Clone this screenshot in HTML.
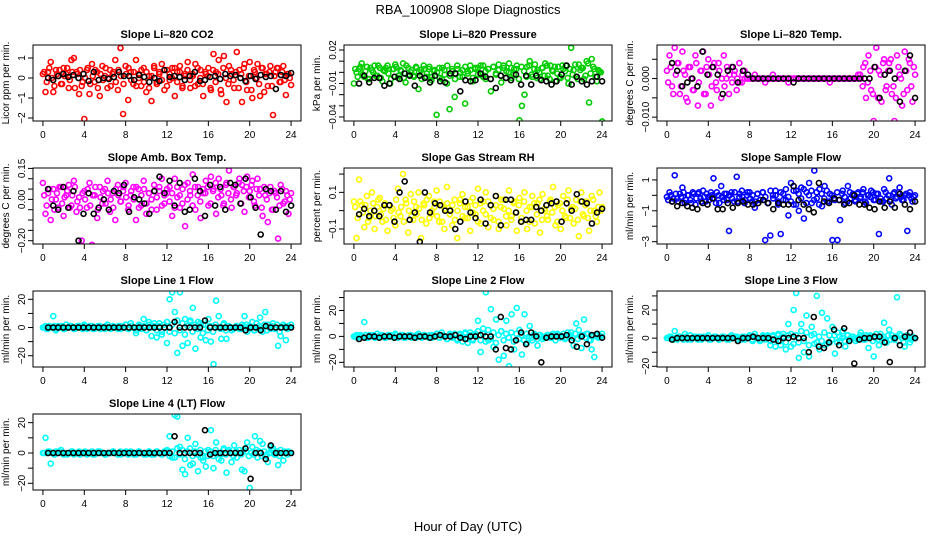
<!DOCTYPE html>
<html><head><meta charset="utf-8"><style>
body{margin:0;background:#fff}
svg{display:block;font-family:"Liberation Sans",sans-serif}
</style></head><body>
<svg id="chart" width="936" height="540" viewBox="0 0 936 540" xmlns="http://www.w3.org/2000/svg">
<rect width="936" height="540" fill="#fff"/>
<text x="468" y="14" font-size="13" text-anchor="middle">RBA_100908  Slope Diagnostics</text>
<text x="468" y="531" font-size="13" text-anchor="middle">Hour of Day (UTC)</text>
</svg>
<script>
const xTicks = [0,4,8,12,16,20,24];
const co2Color = [0.2,-0.7,0.3,0.8,-0.7,0.4,0.1,-0.3,0.5,0.2,-0.5,0.9,1.0,0.3,-0.8,-0.4,-2.05,0.4,-0.8,0.7,-0.2,0.3,-0.9,0.6,0.1,-0.5,0.4,0.2,0.9,-0.6,1.5,-1.8,0.6,-1.1,0.3,-0.3,0.9,0.2,-0.4,0.5,-0.7,0.1,-1.15,0.6,-0.2,0.3,0.7,-0.6,0.4,-0.1,0.5,-0.9,0.3,0.6,-0.4,0.2,0.8,-0.5,0.1,0.7,-0.3,0.4,-0.9,0.2,0.5,-0.6,1.2,0.3,0.9,-0.8,1.1,-1.2,0.6,0.2,-0.5,1.3,0.4,-1.2,0.7,-0.6,0.8,-1.0,0.3,0.7,-0.9,0.5,0.2,-0.4,0.6,-1.85,0.3,0.5,-0.2,0.6,-0.85,0.2,-0.35];
const co2Core = [0.3,-0.2,0.5,0.0,-0.4,0.2,0.4,-0.3,0.1,0.5,-0.1,0.3,-0.5,0.2,0.4,-0.2,0.0,0.5,-0.3,0.1,0.4,-0.5,0.2,-0.1,0.5,0.0,-0.4,0.3,-0.2,0.4,0.1,-0.3,0.2,0.5,-0.1,0.3,-0.4,0.0,0.4,-0.2,0.3,-0.5,0.1,0.5,-0.3,0.2,-0.1,0.4,-0.4,0.2,0.0,0.5,-0.2,0.3,-0.5,0.1,0.4,-0.1,0.2,-0.4,0.5,0.0,-0.3,0.3,0.1,-0.5,0.4,-0.2,0.2,-0.6,0.5,0.0,-0.3,0.4,-0.1,0.3,-0.5,0.2,0.5,-0.2,0.1,-0.6,0.4,0.0,-0.3,0.5,-0.7,0.2,0.3,-0.4,0.1,0.5,-0.2,0.3,-0.1,0.2,0.0];
const co2Black = [0,-0.1,0.1,0.2,0.05,0.15,0.0,0.2,-0.15,0.3,-0.1,0.0,-0.05,0.05,0.3,0.1,0.1,-0.1,0.15,0.05,-0.2,0.0,-0.15,0.4,0.05,0.1,0.05,-0.1,0.1,0.3,-0.15,-0.1,0.05,0.1,-0.05,0.2,0.1,0.15,0.0,-0.15,0.1,-0.05,0.15,0.05,0.1,-0.55,0.15,0.1,0.25];
const presColor = [-0.01,0.0,0.003,0.008,-0.004,0.005,-0.006,0.002,0.006,-0.003,0.004,-0.008,0.001,0.006,-0.01,0.003,0.007,-0.005,0.002,0.008,-0.009,0.004,0.0,-0.003,0.005,-0.015,0.002,0.006,-0.004,0.003,-0.007,0.001,-0.038,0.004,-0.006,0.002,-0.01,-0.033,0.003,-0.022,0.006,-0.004,0.002,-0.028,0.001,0.006,-0.008,0.003,0.004,-0.002,0.006,-0.006,0.003,-0.017,0.005,-0.002,0.007,-0.009,0.004,0.001,0.008,-0.005,0.003,0.006,-0.043,-0.03,-0.02,0.005,0.01,-0.004,0.007,0.002,-0.006,0.004,0.008,-0.003,0.006,0.001,-0.008,0.005,-0.005,0.003,0.006,-0.01,0.022,0.002,-0.004,0.007,0.004,-0.006,0.01,-0.027,0.012,0.003,-0.008,0.001,-0.044];
const presCore = [0.003,-0.004,0.005,-0.002,0.001,-0.006,0.004,0.0,-0.003,0.006,-0.005,0.002,0.004,-0.001,-0.006,0.003,0.005,-0.003,0.001,-0.005,0.006,-0.002,0.002,-0.004,0.004,0.0,-0.006,0.003,-0.001,0.005,-0.004,0.002,0.0,-0.005,0.004,-0.002,0.006,-0.003,0.001,-0.006,0.003,0.0,-0.004,0.005,-0.001,0.002,-0.005,0.004,-0.002,0.006,-0.004,0.001,0.003,-0.006,0.005,-0.001,0.002,-0.003,0.006,-0.005,0.0,0.004,-0.002,0.003,-0.006,0.005,0.001,-0.004,0.006,-0.002,0.003,-0.005,0.0,0.004,-0.003,0.006,-0.006,0.002,0.005,-0.001,-0.004,0.006,0.001,-0.005,0.003,-0.002,0.007,-0.006,0.002,0.004,-0.003,0.008,-0.001,0.005,-0.004,0.002,0.0];
const presBlack = [-0.01,-0.003,-0.009,-0.005,-0.005,-0.012,-0.01,-0.004,-0.006,-0.001,-0.003,-0.012,-0.003,-0.005,-0.009,-0.003,-0.008,-0.009,-0.001,-0.001,-0.017,-0.007,-0.008,-0.007,-0.001,-0.004,-0.006,-0.014,-0.003,-0.005,-0.007,-0.002,-0.011,-0.003,-0.011,-0.003,-0.007,-0.008,-0.011,-0.008,-0.002,0.006,-0.011,-0.004,-0.008,-0.011,-0.008,-0.004,-0.008];
const tempColor = [0.002,0.006,-0.002,0.008,0.004,-0.004,0.007,0.001,-0.006,0.003,-0.003,0.006,-0.007,0.002,0.007,-0.004,0.005,-0.007,0.003,-0.001,0.004,-0.005,0.006,0.0,-0.004,0.003,0.001,-0.003,0.004,-0.001,0.002,0.0,0.0,0.0,0.001,0.0,0.0,0.0,-0.001,0.0,0.0,0.001,0.0,0.0,0.0,0.0,0.0,-0.001,0.0,0.0,0.0,0.0,0.0,0.0,0.0,0.0,0.0,0.0,0.0,0.0,0.0,0.0,0.0,-0.001,0.0,0.0,0.0,0.0,0.0,0.0,0.0,0.0,0.0,0.0,0.001,0.0,0.003,-0.005,0.006,-0.003,-0.011,0.008,0.002,-0.006,0.005,-0.002,0.004,-0.004,-0.011,0.006,0.001,-0.007,0.007,-0.003,0.004,-0.006,0.001];
const tempCore = [-0.001,0.003,-0.004,0.001,0.004,-0.002,0.002,-0.005,0.003,0.0,-0.003,0.004,-0.001,0.002,-0.004,0.003,0.001,-0.002,0.004,-0.003,0.002,0.0,-0.002,0.003,0.001,-0.001,0.002,0.0,-0.001,0.001,0.0,0.0,0.0,0.0,0.0,0.0,0.0,0.0,0.0,0.0,0.0,0.0,0.0,0.0,0.0,0.0,0.0,0.0,0.0,0.0,0.0,0.0,0.0,0.0,0.0,0.0,0.0,0.0,0.0,0.0,0.0,0.0,0.0,0.0,0.0,0.0,0.0,0.0,0.0,0.0,0.0,0.0,0.0,0.0,0.0,0.001,-0.002,0.004,-0.001,0.002,-0.004,0.003,-0.005,0.001,0.004,-0.003,0.002,0.005,-0.002,-0.005,0.003,0.0,-0.004,0.002,0.005,-0.002,0.003];
const tempBlack = [0.004,0.002,-0.002,-0.001,0.0,-0.002,0.007,0.001,0.003,0.001,-0.004,0.002,0.003,-0.001,0.002,0.001,0.0,0.0,0.0,0.0,0.0,0.0,0.0,0.0,-0.001,0.0,0.0,0.0,0.0,0.0,0.0,0.0,0.0,0.0,0.0,0.0,0.0,0.0,0.0,0.0,0.003,-0.005,0.001,0.002,0.0,-0.006,0.002,0.006,-0.005];
const ambColor = [0.08,-0.07,0.03,-0.1,0.05,0.0,-0.04,0.06,-0.08,0.02,0.07,-0.03,0.09,-0.06,0.01,-0.2,0.04,-0.04,0.08,-0.22,0.02,-0.09,0.06,-0.02,0.05,0.09,-0.06,0.03,-0.1,0.07,-0.01,0.04,0.08,-0.05,0.02,0.06,-0.1,0.05,-0.03,0.09,-0.07,0.03,0.0,0.07,-0.05,0.04,0.1,-0.02,0.03,0.06,-0.08,0.1,0.01,-0.04,0.05,-0.13,0.08,0.02,0.12,-0.05,0.06,-0.09,0.03,0.09,-0.03,0.11,0.05,-0.07,0.1,0.02,-0.02,0.08,0.14,-0.04,0.06,0.03,0.1,0.07,-0.06,0.11,0.04,0.09,-0.03,0.1,0.05,-0.08,0.02,-0.11,0.06,-0.05,0.03,-0.19,0.07,-0.02,0.04,-0.07,0.03];
const ambCore = [0.02,-0.03,0.05,0.0,-0.05,0.03,0.06,-0.02,0.01,0.04,-0.04,0.02,0.06,-0.01,-0.04,0.03,0.0,0.05,-0.03,0.02,0.06,-0.05,0.01,0.04,-0.02,0.03,0.0,-0.04,0.05,0.02,-0.01,0.06,0.01,-0.03,0.04,0.0,0.06,-0.04,0.02,0.05,-0.02,0.03,-0.05,0.04,0.01,0.06,-0.03,0.02,0.05,-0.01,0.03,-0.04,0.06,0.02,-0.02,0.07,0.0,0.04,-0.03,0.06,0.02,-0.01,0.05,0.03,0.06,-0.02,0.04,0.08,0.01,0.05,-0.03,0.07,0.03,0.0,0.06,0.02,0.08,-0.02,0.04,0.06,0.01,0.07,-0.01,0.05,0.02,-0.04,0.06,0.0,0.03,-0.05,0.04,0.01,-0.03,0.05,-0.01,0.02,0.0];
const ambBlack = [0.05,-0.03,-0.05,0.06,-0.04,0.04,-0.2,-0.07,0.03,-0.07,-0.04,0.0,-0.05,0.04,0.03,0.07,-0.06,0.01,0.0,-0.02,-0.07,0.04,0.11,0.03,0.09,-0.03,0.08,-0.06,-0.05,0.1,0.04,-0.08,0.07,-0.03,0.06,-0.05,0.08,0.07,-0.02,0.1,0.01,-0.04,-0.17,0.05,0.04,-0.05,0.04,-0.06,-0.03];
const rhColor = [0.05,-0.15,0.17,0.03,-0.09,0.08,-0.04,0.1,-0.1,0.02,0.07,-0.06,0.04,-0.11,0.25,0.01,-0.08,0.12,-0.03,0.2,0.06,-0.12,0.09,-0.05,0.02,0.1,-0.15,0.04,-0.07,0.08,-0.02,0.05,0.11,-0.06,0.03,-0.1,0.13,0.0,-0.08,0.06,-0.15,0.04,0.09,-0.04,0.02,-0.11,0.07,-0.02,0.12,-0.07,0.05,0.1,-0.09,0.03,-0.05,0.08,-0.1,0.06,0.01,-0.08,0.11,-0.03,0.05,-0.11,0.07,-0.06,0.1,-0.1,0.02,0.08,-0.07,0.04,-0.12,0.09,0.0,-0.05,0.06,0.13,-0.08,0.03,-0.1,0.08,-0.04,0.11,0.01,-0.07,0.06,-0.14,0.1,-0.03,0.05,-0.11,0.08,0.0,-0.06,0.1,0.02];
const rhCore = [0.02,-0.04,0.05,-0.01,0.03,-0.06,0.0,0.04,-0.03,0.06,-0.02,0.01,-0.05,0.03,0.0,-0.04,0.06,-0.01,0.02,-0.06,0.04,0.0,-0.03,0.05,-0.02,0.01,-0.05,0.03,0.06,-0.04,0.0,0.02,-0.03,0.05,-0.06,0.01,0.04,-0.02,0.03,-0.05,0.0,0.06,-0.03,0.02,-0.04,0.05,-0.01,0.03,-0.06,0.04,0.0,-0.02,0.05,-0.04,0.01,0.03,-0.06,0.02,0.06,-0.03,0.0,-0.05,0.04,-0.01,0.03,-0.04,0.05,0.0,-0.06,0.02,0.04,-0.02,0.06,-0.05,0.01,-0.03,0.05,-0.01,0.02,-0.06,0.04,0.0,-0.03,0.06,-0.04,0.02,0.01,-0.05,0.05,-0.02,0.03,-0.04,0.0,0.06,-0.03,0.02,0.0];
const rhBlack = [-0.02,0.01,-0.03,0.0,-0.03,0.03,0.03,-0.06,0.1,0.16,-0.05,-0.01,-0.17,0.1,-0.01,0.04,0.03,0.0,0.0,-0.1,-0.06,0.05,-0.01,-0.04,0.06,-0.07,0.03,0.08,-0.08,0.06,0.06,-0.01,-0.06,-0.05,-0.05,0.02,0.0,0.03,0.04,0.05,-0.06,0.04,0.0,0.09,0.05,0.04,-0.07,-0.01,0.01];
const flowColor = [-0.1,0.2,-0.4,1.3,-0.2,0.1,0.5,-0.5,0.0,-0.3,0.2,-0.6,0.1,-0.2,0.3,-0.4,-0.1,0.2,1.1,-0.5,0.0,0.6,-0.3,0.1,-2.3,0.2,-0.4,1.2,-0.1,0.3,-0.5,0.0,0.2,-0.4,-0.8,0.1,-0.3,0.2,-2.9,-0.5,-2.6,0.0,0.3,-0.4,-2.5,0.1,-0.3,-1.3,0.8,-0.6,0.3,-1.0,0.5,-1.5,0.2,0.8,-0.5,1.6,-0.2,0.4,-0.7,0.6,-0.4,0.1,-2.9,-0.3,-2.9,-1.6,0.3,-0.5,0.6,-0.2,0.1,-0.4,0.2,-0.1,0.4,-0.5,0.0,0.3,-0.3,0.1,-2.5,-0.4,0.4,-0.2,1.1,-0.6,0.2,-0.1,0.5,-0.3,0.0,-2.3,0.2,-0.4,0.0];
const flowCore = [-0.3,0.0,-0.2,0.1,-0.4,-0.1,0.2,-0.3,0.0,-0.5,0.1,-0.2,0.2,-0.4,-0.1,0.1,-0.3,0.0,-0.2,0.2,-0.5,-0.1,0.1,-0.3,0.0,-0.2,0.2,-0.4,0.1,-0.1,-0.3,0.2,-0.2,0.0,-0.4,0.1,-0.3,0.2,-0.1,-0.5,0.3,-0.2,0.0,-0.6,0.2,-0.3,0.4,-0.1,-0.4,0.3,-0.6,0.1,-0.2,0.4,-0.5,0.0,0.3,-0.3,0.2,-0.6,0.1,-0.2,0.3,-0.4,0.0,-0.2,0.2,-0.3,0.1,-0.1,-0.4,0.2,0.0,-0.3,0.1,-0.2,0.2,-0.4,0.0,-0.1,0.2,-0.3,0.1,-0.2,-0.4,0.2,0.0,-0.3,0.1,-0.2,0.2,-0.1,-0.3,0.1,0.0,-0.2,-0.1];
const flowBlack = [-0.4,-0.7,-0.5,-0.7,-0.8,-0.9,-0.5,-0.6,-0.2,-0.9,-0.9,-0.5,-0.8,-0.5,-0.4,-0.6,-0.6,-0.5,-0.3,-0.5,-0.9,-0.5,-0.6,-0.6,0.6,-0.3,-0.6,-0.9,-1.1,0.8,-0.4,-0.5,-0.2,-0.3,-0.6,-0.5,0.0,-0.6,-0.6,-0.8,-0.9,-0.4,-0.8,-0.4,-0.8,0.1,-0.6,-0.9,-0.4];
const line1Color = [0,1,-1,0,8,-2,1,0,-1,2,0,1,-1,0,1,0,2,-1,0,1,-1,0,1,0,-1,2,0,1,0,-1,1,0,2,-1,3,0,-4,1,0,6,-2,4,-6,1,-7,3,-5,0,-11,20,25,11,-18,25,-13,6,-11,5,14,-15,4,-7,2,-9,6,-10,-26,19,8,-8,3,-8,1,-2,0,1,-1,2,8,-3,1,4,-2,0,7,-3,11,2,-1,3,0,-13,-6,2,-9,1,2];
const line1Core = [0,-1,1,0,1,-1,0,1,-1,0,1,0,-1,1,0,-1,1,0,1,-1,0,1,-1,0,1,0,-1,1,0,1,-1,0,2,-1,1,0,-2,2,-1,1,-2,2,0,3,-2,1,-3,2,4,-3,2,-4,5,-2,3,-5,1,4,-3,2,-1,3,-4,2,-2,1,-3,2,0,-1,2,-2,1,0,-1,1,0,-1,1,2,-1,0,-2,3,1,-1,2,-2,0,1,-1,2,-3,0,1,-1,0];
const line1Black = [0,0,0,0,0,0,0,0,0,0,0,0,0,0,0,0,0,0,0,0,0,0,0,0,0,4,0,0,0,0,0,5,0,0,0,0,0,0,0,-2,0,0,-2,1,0,0,0,0,0];
const line2Color = [0,1,0,0,11,-1,1,0,-1,2,0,1,-1,0,1,0,2,-1,0,1,-1,0,1,0,-1,2,0,1,0,-1,1,0,2,-1,3,0,-2,1,0,2,-3,1,-4,2,-5,3,-2,1,12,-12,6,34,-3,21,-8,13,-18,4,-15,12,-23,17,-10,22,5,-14,17,-5,8,-3,1,-7,1,-2,0,1,-1,2,-3,1,0,2,-1,0,3,-7,10,5,-9,13,2,-3,-10,-16,1,0,2];
const line2Core = [0,-1,1,0,1,-1,0,1,-1,0,1,0,-1,1,0,-1,1,0,1,-1,0,1,-1,0,1,0,-1,1,0,1,-1,0,2,-1,1,0,-2,2,-1,1,-2,2,0,3,-2,1,-3,2,4,-3,2,-4,5,-2,3,-5,1,4,-3,2,-1,3,-4,2,-2,1,-3,2,0,-1,2,-2,1,0,-1,1,0,-1,1,2,-1,0,-2,3,1,-1,2,-2,0,1,-1,2,-3,0,1,-1,0];
const line2Black = [-2,-1,0,0,-1,0,0,-1,0,0,0,-1,0,0,-1,0,1,0,0,1,-1,-2,0,0,1,0,0,-10,15,-9,-10,-3,3,-6,3,0,-20,-1,0,0,0,1,-3,-8,0,-6,1,2,-1];
const line3Color = [0,1,0,5,-1,1,0,3,-1,2,0,1,-1,0,1,0,2,-1,0,1,-1,0,1,0,-1,2,0,1,0,-1,1,0,2,-1,3,0,-2,1,0,2,-5,1,-6,2,-5,3,-8,10,-6,20,32,-14,10,-10,16,-13,8,-4,30,-8,18,-5,14,-3,8,-11,4,-2,5,-6,2,0,1,-2,0,4,-1,2,-7,1,-13,3,-5,0,11,-3,6,2,-1,29,3,0,-6,2,-3,1,0];
const line3Core = [0,1,-1,0,1,0,-1,1,0,-1,1,0,1,-1,0,1,-1,0,1,0,-1,1,0,-1,1,0,1,-1,0,1,-1,0,1,-2,1,0,-1,2,-1,1,-2,2,-1,3,-2,1,-3,2,3,-4,2,-3,5,-2,4,-5,2,3,-3,1,-2,4,-4,2,-1,2,-3,1,0,-2,2,-1,1,0,-1,2,0,-1,1,2,-2,0,-1,3,1,-2,2,-1,0,1,-2,2,-3,1,0,-1,0];
const line3Black = [-1,0,0,0,0,0,0,0,0,0,0,0,0,-2,0,0,1,0,0,0,-1,-2,0,0,1,0,0,-10,15,-6,-7,-3,6,-5,7,-2,-18,-1,0,0,1,1,-3,-17,0,-5,1,4,0];
const line4Color = [0,10,1,-7,0,1,0,2,-1,0,0,1,-1,0,1,0,0,-1,0,1,-1,0,1,0,-1,0,0,1,0,-1,1,0,0,-1,1,0,-1,1,0,0,-1,1,-1,0,1,0,-1,0,1,11,-3,25,24,4,-11,-14,10,-8,-7,6,-12,-3,-5,-9,2,15,-10,7,-4,-5,3,-13,2,-6,5,-3,2,-11,-12,7,-23,4,11,-3,8,6,-2,-6,4,3,-1,-8,2,-5,0,1,0];
const line4Core = [0,0,1,0,-1,0,1,0,0,-1,0,1,0,0,-1,0,1,0,0,-1,0,1,0,0,-1,0,0,1,0,0,-1,0,1,0,0,-1,0,1,0,-1,0,1,0,-1,1,0,-1,1,2,-2,1,-3,3,-1,2,-4,1,3,-2,1,-1,2,-3,1,-2,1,-2,2,0,-1,2,-1,1,0,-2,1,0,-1,2,1,-2,0,-1,2,1,-2,1,-1,0,2,-1,1,-2,0,1,-1,0];
const line4Black = [0,0,0,0,0,0,0,0,0,0,0,0,0,0,0,0,0,0,0,0,0,0,0,0,0,11,0,0,0,0,0,15,-1,0,0,0,0,0,0,3,-17,0,0,-4,5,0,0,0,0];

const panels = [
 {name:'co2',title:'Slope Li\u2013820 CO2',ylab:'Licor ppm per min.',col:0,row:0,ymin:-2.15,ymax:1.65,ticks:[-2,-1,0,1],labels:['\u22122','\u22121','0','1'],color:'#ff0000',c:co2Color,core:co2Core,k:co2Black},
 {name:'pressure',title:'Slope Li\u2013820 Pressure',ylab:'kPa per min.',col:1,row:0,ymin:-0.0436,ymax:0.0245,ticks:[-0.04,-0.03,-0.02,-0.01,0,0.01,0.02],labels:['\u22120.04','','','\u22120.01','','','0.02'],color:'#00cd00',c:presColor,core:presCore,k:presBlack},
 {name:'temp',title:'Slope Li\u2013820 Temp.',ylab:'degrees C per min.',col:2,row:0,ymin:-0.011,ymax:0.0087,ticks:[-0.01,-0.005,0,0.005],labels:['\u22120.010','','0.000',''],color:'#ff00ff',c:tempColor,core:tempCore,k:tempBlack},
 {name:'amb-box-temp',title:'Slope Amb. Box Temp.',ylab:'degrees C per min.',col:0,row:1,ymin:-0.216,ymax:0.152,ticks:[-0.2,-0.15,-0.1,-0.05,0,0.05,0.1,0.15],labels:['\u22120.20','','','','0.00','','','0.15'],color:'#ff00ff',c:ambColor,core:ambCore,k:ambBlack},
 {name:'gas-stream-rh',title:'Slope Gas Stream RH',ylab:'percent per min.',col:1,row:1,ymin:-0.182,ymax:0.233,ticks:[-0.1,0,0.1,0.2],labels:['\u22120.1','','0.1',''],color:'#ffff00',c:rhColor,core:rhCore,k:rhBlack},
 {name:'sample-flow',title:'Slope Sample Flow',ylab:'ml/min per min.',col:2,row:1,ymin:-3.15,ymax:1.77,ticks:[-3,-2,-1,0,1],labels:['\u22123','','\u22121','','1'],color:'#0000ff',c:flowColor,core:flowCore,k:flowBlack},
 {name:'line1-flow',title:'Slope Line 1 Flow',ylab:'ml/min per min.',col:0,row:2,ymin:-28,ymax:25.9,ticks:[-20,-10,0,10,20],labels:['\u221220','','0','','20'],color:'#00ffff',c:line1Color,core:line1Core,k:line1Black},
 {name:'line2-flow',title:'Slope Line 2 Flow',ylab:'ml/min per min.',col:1,row:2,ymin:-23.6,ymax:35,ticks:[-20,-10,0,10,20,30],labels:['\u221220','','0','','20',''],color:'#00ffff',c:line2Color,core:line2Core,k:line2Black},
 {name:'line3-flow',title:'Slope Line 3 Flow',ylab:'ml/min per min.',col:2,row:2,ymin:-20.5,ymax:33.5,ticks:[-20,-10,0,10,20,30],labels:['\u221220','','0','','20',''],color:'#00ffff',c:line3Color,core:line3Core,k:line3Black},
 {name:'line4-flow',title:'Slope Line 4 (LT) Flow',ylab:'ml/min per min.',col:0,row:3,ymin:-24.4,ymax:25.7,ticks:[-20,-10,0,10,20],labels:['\u221220','','0','','20'],color:'#00ffff',c:line4Color,core:line4Core,k:line4Black}
];

const NS='http://www.w3.org/2000/svg';
const svg=document.getElementById('chart');
const colLeft=[33,344,657], rowTop=[45,168,291,414], W=268, H=76;
function mk(tag,attrs,parent){const e=document.createElementNS(NS,tag);for(const a in attrs)e.setAttribute(a,attrs[a]);parent.appendChild(e);return e;}

panels.forEach(p=>{
  const L=colLeft[p.col], T=rowTop[p.row], B=T+H, R=L+W;
  const xs=h=>L+(h+0.96)/25.92*W;
  const ys=v=>B-(v-p.ymin)/(p.ymax-p.ymin)*H;
  const g=mk('g',{},svg);
  
  
  const title=mk('text',{x:(L+R)/2,y:T-7,'font-size':11,'font-weight':'bold','text-anchor':'middle'},g);
  title.textContent=p.title;
  
  
  const yl=mk('text',{x:0,y:0,'font-size':10,'text-anchor':'middle',transform:`translate(${L-24},${(T+B)/2}) rotate(-90)`},g);
  yl.textContent=p.ylab;
  
  
  const clip=mk('clipPath',{id:'clip-'+p.name},g);
  mk('rect',{x:L,y:T,width:W,height:H},clip);
  const pts=mk('g',{'clip-path':`url(#clip-${p.name})`,fill:'none','stroke-width':1.6},g);
  p.c.forEach((v,i)=>{
    const h=i*24/(p.c.length-1);
    const c=mk('circle',{cx:xs(h).toFixed(1),cy:ys(v).toFixed(1),r:2.5,stroke:p.color},pts);
    
    
  });
  p.core.forEach((v,i)=>{
    const h=0.12+i*23.76/(p.core.length-1);
    const c=mk('circle',{cx:xs(h).toFixed(1),cy:ys(v).toFixed(1),r:2.5,stroke:p.color},pts);
    
    
  });
  p.k.forEach((v,i)=>{
    const h=0.5+i*23.5/(p.k.length-1);
    const c=mk('circle',{cx:xs(h).toFixed(1),cy:ys(v).toFixed(1),r:2.5,stroke:'#000'},pts);
    
    
  });
  const box=mk('rect',{x:L,y:T,width:W,height:H,fill:'none',stroke:'#000','stroke-width':1},g);
  
  
  const xa=mk('g',{stroke:'#000','stroke-width':1},g);
  
  
  mk('line',{x1:xs(0),x2:xs(24),y1:B,y2:B},xa);
  xTicks.forEach(t=>{
    mk('line',{x1:xs(t),x2:xs(t),y1:B,y2:B+5},xa);
    const tl=mk('text',{x:xs(t),y:B+17,'font-size':10,'text-anchor':'middle',stroke:'none',fill:'#000'},xa);
    tl.textContent=t;
    
    
  });
  const ya=mk('g',{stroke:'#000','stroke-width':1},g);
  
  
  mk('line',{x1:L,x2:L,y1:ys(p.ticks[0]),y2:ys(p.ticks[p.ticks.length-1])},ya);
  p.ticks.forEach((t,i)=>{
    mk('line',{x1:L-5,x2:L,y1:ys(t),y2:ys(t)},ya);
    if(p.labels[i]){
      const tl=mk('text',{x:0,y:0,'font-size':10,'text-anchor':'middle',stroke:'none',fill:'#000',transform:`translate(${L-8},${ys(t)}) rotate(-90)`},ya);
      tl.textContent=p.labels[i];
      
      
    }
  });
});
</script>
</body></html>
